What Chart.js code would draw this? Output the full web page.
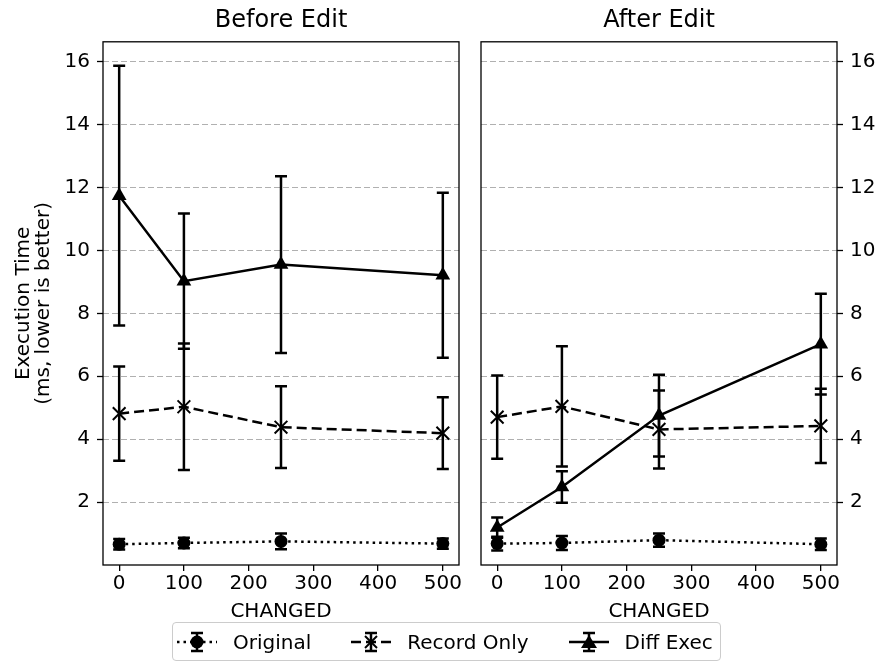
<!DOCTYPE html>
<html>
<head>
<meta charset="utf-8">
<script src="https://cdn.jsdelivr.net/npm/chart.js@4.4.0/dist/chart.umd.min.js"></script>
<style>
  body { margin: 0; background: #fff; font-family: 'DejaVu Sans', sans-serif; }
  #wrap { position: relative; width: 880px; height: 664px; overflow: hidden; }
  #left { position: absolute; left: 0; top: 0; }
  #right { position: absolute; left: 470px; top: 0; }
  #legend {
    position: absolute; left: 172px; top: 622px; width: 549px; height: 39px;
    box-sizing: border-box; border: 1px solid #cccccc; border-radius: 4px;
    display: flex; align-items: center; padding-left: 4px;
    font-size: 20px; color: #000;
  }
  .item { display: flex; align-items: center; }
  .item svg { margin-right: 16px; }
  .item + .item { margin-left: 40px; }
</style>
</head>
<body>
<div id="wrap">
  <canvas id="left" width="470" height="632"></canvas>
  <canvas id="right" width="410" height="632"></canvas>
  <div id="legend">
    <div class="item">
      <svg width="40" height="26" viewBox="0 0 40 26">
        <line x1="0" y1="13" x2="40" y2="13" stroke="#000" stroke-width="2.5" stroke-dasharray="2.5 4"/>
        <line x1="20" y1="4" x2="20" y2="22" stroke="#000" stroke-width="2.5"/>
        <line x1="14" y1="4" x2="26" y2="4" stroke="#000" stroke-width="2.5"/>
        <line x1="14" y1="22" x2="26" y2="22" stroke="#000" stroke-width="2.5"/>
        <circle cx="20" cy="13" r="6.5" fill="#000"/>
      </svg>
      <span>Original</span>
    </div>
    <div class="item">
      <svg width="40" height="26" viewBox="0 0 40 26">
        <line x1="0" y1="13" x2="40" y2="13" stroke="#000" stroke-width="2.5" stroke-dasharray="10 5"/>
        <line x1="20" y1="4" x2="20" y2="22" stroke="#000" stroke-width="2.5"/>
        <line x1="14" y1="4" x2="26" y2="4" stroke="#000" stroke-width="2.5"/>
        <line x1="14" y1="22" x2="26" y2="22" stroke="#000" stroke-width="2.5"/>
        <line x1="14" y1="7" x2="26" y2="19" stroke="#000" stroke-width="2"/>
        <line x1="26" y1="7" x2="14" y2="19" stroke="#000" stroke-width="2"/>
      </svg>
      <span>Record Only</span>
    </div>
    <div class="item">
      <svg width="40" height="26" viewBox="0 0 40 26">
        <line x1="0" y1="13" x2="40" y2="13" stroke="#000" stroke-width="2.5"/>
        <line x1="20" y1="4" x2="20" y2="22" stroke="#000" stroke-width="2.5"/>
        <line x1="14" y1="4" x2="26" y2="4" stroke="#000" stroke-width="2.5"/>
        <line x1="14" y1="22" x2="26" y2="22" stroke="#000" stroke-width="2.5"/>
        <polygon points="20,6 28,19 12,19" fill="#000"/>
      </svg>
      <span>Diff Exec</span>
    </div>
  </div>
</div>
<script>
// x positions (number of changed items) and axis ticks
const changed = [0, 100, 250, 500];
const xTicks = [0, 100, 200, 300, 400, 500];
const yTicks = [2, 4, 6, 8, 10, 12, 14, 16];

// Before Edit
const beforeOriginal = [0.66, 0.70, 0.75, 0.68];
const beforeOriginalErr = [0.17, 0.17, 0.25, 0.16];
const beforeRecord = [4.81, 5.03, 4.38, 4.19];
const beforeRecordErr = [1.50, 2.01, 1.30, 1.14];
const beforeDiff = [11.74, 9.02, 9.55, 9.21];
const beforeDiffErr = [4.13, 2.15, 2.81, 2.62];

// After Edit
const afterOriginal = [0.68, 0.70, 0.79, 0.66];
const afterOriginalErr = [0.22, 0.22, 0.21, 0.18];
const afterRecord = [4.70, 5.04, 4.31, 4.42];
const afterRecordErr = [1.32, 1.91, 1.24, 1.18];
const afterDiff = [1.19, 2.48, 4.75, 7.02];
const afterDiffErr = [0.32, 0.50, 1.30, 1.60];

Chart.defaults.font.family = "'DejaVu Sans', sans-serif";
Chart.defaults.color = '#000';

function toPoints(vals) {
  return vals.map((v, i) => ({ x: changed[i], y: v }));
}

// vertical error bars with caps, drawn under the lines and markers
const errorBars = {
  id: 'errorBars',
  beforeDatasetsDraw(chart) {
    const { ctx, scales: { x, y } } = chart;
    ctx.save();
    ctx.strokeStyle = '#000';
    ctx.lineWidth = 2.5;
    chart.data.datasets.forEach(ds => {
      ds.data.forEach((p, i) => {
        const px = x.getPixelForValue(p.x);
        const top = y.getPixelForValue(p.y + ds.errors[i]);
        const bot = y.getPixelForValue(p.y - ds.errors[i]);
        ctx.beginPath();
        ctx.moveTo(px, top); ctx.lineTo(px, bot);
        ctx.moveTo(px - 6, top); ctx.lineTo(px + 6, top);
        ctx.moveTo(px - 6, bot); ctx.lineTo(px + 6, bot);
        ctx.stroke();
      });
    });
    ctx.restore();
  }
};

// box around the plot area
const frame = {
  id: 'frame',
  afterDraw(chart) {
    const { ctx, chartArea: a } = chart;
    ctx.save();
    ctx.strokeStyle = '#000';
    ctx.lineWidth = 1.3;
    ctx.strokeRect(a.left, a.top, a.right - a.left, a.bottom - a.top);
    ctx.restore();
  }
};

function makePanel(id, title, side, orig, origErr, rec, recErr, diff, diffErr) {
  const left = side === 'left';
  return new Chart(document.getElementById(id), {
    type: 'line',
    data: {
      datasets: [
        {
          label: 'Original', data: toPoints(orig), errors: origErr,
          borderColor: '#000', backgroundColor: '#000', borderWidth: 2.5, borderDash: [2.5, 4],
          pointStyle: 'circle', pointRadius: 6.5, pointBorderWidth: 0, pointBackgroundColor: '#000'
        },
        {
          label: 'Record Only', data: toPoints(rec), errors: recErr,
          borderColor: '#000', backgroundColor: '#000', borderWidth: 2.5, borderDash: [10, 5],
          pointStyle: 'crossRot', pointRadius: 9, pointBorderWidth: 2, pointBorderColor: '#000'
        },
        {
          label: 'Diff Exec', data: toPoints(diff), errors: diffErr,
          borderColor: '#000', backgroundColor: '#000', borderWidth: 2.5,
          pointStyle: 'triangle', pointRadius: 8.5, pointBorderWidth: 0, pointBackgroundColor: '#000'
        }
      ]
    },
    options: {
      responsive: false,
      animation: false,
      layout: { padding: left ? { right: 11 } : { left: 11 } },
      plugins: {
        legend: { display: false },
        tooltip: { enabled: false },
        title: {
          display: true, text: title, fullSize: false, color: '#000',
          font: { size: 24, weight: 'normal' },
          padding: { top: 6, bottom: 7 }
        }
      },
      scales: {
        x: {
          type: 'linear', min: -25, max: 525,
          afterBuildTicks: s => { s.ticks = xTicks.map(v => ({ value: v })); },
          afterFit: s => { s.height = 67; },
          ticks: { padding: 1, font: { size: 20 }, color: '#000', maxRotation: 0 },
          grid: { drawOnChartArea: false, tickLength: 6, color: '#000', lineWidth: 1.3 },
          border: { display: false },
          title: { display: true, text: 'CHANGED', font: { size: 20 }, color: '#000', padding: { top: 0, bottom: 8 } }
        },
        y: {
          type: 'linear', position: side, min: 0, max: 16.63,
          afterBuildTicks: s => { s.ticks = yTicks.map(v => ({ value: v })); },
          afterFit: s => { s.width = left ? 103 : 43; },
          ticks: { padding: 7, font: { size: 20 }, color: '#000' },
          grid: { color: '#b0b0b0', lineWidth: 1, tickColor: '#000', tickLength: 6, tickWidth: 1.3 },
          border: { display: false, dash: [6, 3] },
          title: left ? {
            display: true, text: ['Execution Time', '(ms, lower is better)'],
            font: { size: 20, lineHeight: 1.0 }, color: '#000', padding: { top: 14, bottom: 0 }
          } : { display: false }
        }
      }
    },
    plugins: [errorBars, frame]
  });
}

makePanel('left', 'Before Edit', 'left',
  beforeOriginal, beforeOriginalErr, beforeRecord, beforeRecordErr, beforeDiff, beforeDiffErr);
makePanel('right', 'After Edit', 'right',
  afterOriginal, afterOriginalErr, afterRecord, afterRecordErr, afterDiff, afterDiffErr);
</script>
</body>
</html>
